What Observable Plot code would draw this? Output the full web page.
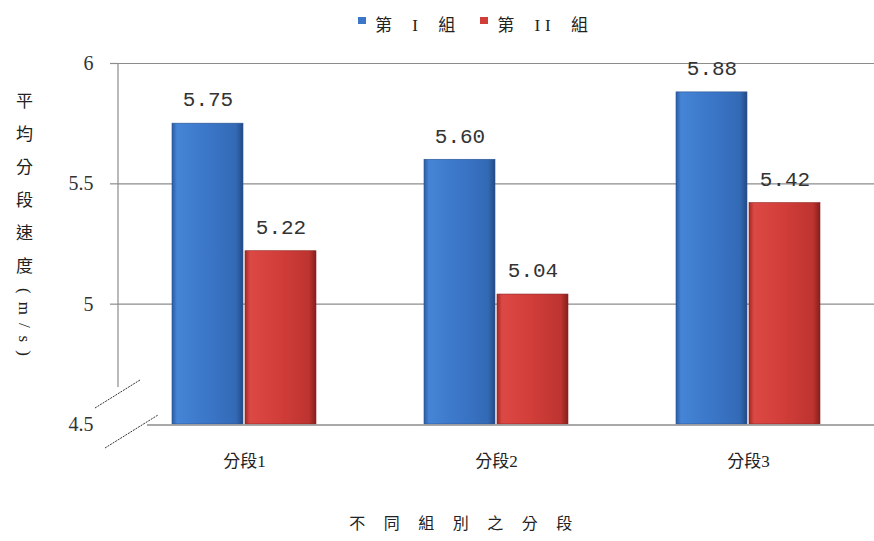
<!DOCTYPE html>
<html>
<head>
<meta charset="utf-8">
<script src="https://cdn.jsdelivr.net/npm/d3@7"></script>
<script src="https://cdn.jsdelivr.net/npm/@observablehq/plot@0.6"></script>
<style>
  body { margin: 0; background: #fff; }
  #wrap { position: relative; width: 874px; height: 541px; background: #fff; font-family: "Liberation Serif", "Noto Sans CJK TC", serif; }
  #chart { position: absolute; left: 0; top: 0; }
  #chart g[aria-label="y-axis tick label"] text, #chart g[aria-label="y-axis tick label"] { font-family: "Liberation Serif", serif !important; font-size: 20px !important; fill: #333; }
  #chart g[aria-label="fx-axis tick label"] text, #chart g[aria-label="fx-axis tick label"] { font-family: "Liberation Serif", "Noto Sans CJK TC", serif !important; font-size: 17px !important; fill: #222; }
  .legend { position: absolute; top: 11px; left: 358px; font-size: 17px; color: #222; white-space: pre; display: flex; align-items: center; }
  .legend .sw { display: inline-block; width: 8px; height: 7px; margin-right: 9px; margin-top: -6px; }
  .legend .lab { letter-spacing: 5px; word-spacing: 6px; margin-right: 20px; }
  .ytitle { position: absolute; left: 12px; top: 92px; writing-mode: vertical-rl; font-size: 17px; color: #222; }
  .ytitle .cjk { letter-spacing: 16px; text-orientation: upright; font-family: "Noto Sans CJK TC", sans-serif; }
  .ytitle .lat { letter-spacing: 8px; text-orientation: sideways; font-family: "Liberation Serif", serif; margin-top: -2px; }
  .xtitle { position: absolute; top: 510px; left: 0; width: 874px; text-align: center; font-size: 16px; color: #222; letter-spacing: 18.5px; padding-left: 66px; box-sizing: border-box; font-family: "Noto Sans CJK TC", sans-serif; }
</style>
</head>
<body>
<div id="wrap">
  <div id="chart"></div>
  <div class="legend" id="legend"></div>
  <div class="ytitle"><span class="cjk">平均分段速度</span><span class="lat">(m/s)</span></div>
  <div class="xtitle">不同組別之分段</div>
</div>
<script>
// ---- data ----
const segments = ["分段1", "分段2", "分段3"];
const groups = ["第 I 組", "第 II 組"];
const groupI = [5.75, 5.60, 5.88];
const groupII = [5.22, 5.04, 5.42];
const yTicks = [4.5, 5, 5.5, 6];
const gridTicks = [5, 5.5, 6];
const valueLabels = ["5.75", "5.60", "5.88", "5.22", "5.04", "5.42"];

const rows = [];
segments.forEach((s, i) => rows.push({segment: s, group: groups[0], value: groupI[i], label: valueLabels[i]}));
segments.forEach((s, i) => rows.push({segment: s, group: groups[1], value: groupII[i], label: valueLabels[i + 3]}));

const plot = Plot.plot({
  width: 874,
  height: 541,
  marginTop: 63,
  marginBottom: 117,
  marginLeft: 118,
  marginRight: 0,
  style: {fontFamily: "'Noto Sans CJK TC', sans-serif", color: "#222", background: "transparent"},
  fx: {domain: segments, padding: 0, axis: "bottom", tickSize: 0, tickPadding: 30, label: null},
  x: {domain: groups, paddingInner: 0.03, paddingOuter: 0.72, axis: null},
  y: {domain: [4.5, 6], ticks: yTicks, tickSize: 8, tickPadding: 17, label: null, tickFormat: d => String(d)},
  color: {domain: groups, range: ["url(#gradBlue)", "url(#gradRed)"]},
  marks: [
    Plot.ruleY(gridTicks, {stroke: "#8c8c8c", strokeWidth: 1.2}),
    Plot.barY(rows, {fx: "segment", x: "group", y1: 4.5, y2: "value", fill: "group", stroke: d => d.group === groups[0] ? "#2a5390" : "#8e2422", strokeWidth: 0.6}),
    Plot.text(rows, {fx: "segment", x: "group", y: "value", text: "label", dy: -24, fontSize: 21, fontFamily: "'Liberation Mono', monospace", fill: "#333"})
  ]
});

document.getElementById("chart").appendChild(plot);
const svg = d3.select(plot);

// gradients
const defs = svg.insert("defs", ":first-child");
function grad(id, stops) {
  const g = defs.append("linearGradient").attr("id", id).attr("x1", "0").attr("x2", "1").attr("y1", "0").attr("y2", "0");
  stops.forEach(([o, c]) => g.append("stop").attr("offset", o).attr("stop-color", c));
}
grad("gradBlue", [["0", "#2c5ca3"], ["0.07", "#4584d6"], ["0.5", "#3b76c8"], ["0.9", "#336ab6"], ["1", "#234a85"]]);
grad("gradRed", [["0", "#a02a27"], ["0.07", "#dc4844"], ["0.5", "#d13d39"], ["0.9", "#bd3430"], ["1", "#861f1d"]]);

// style axis ticks; drop the tick at the broken baseline
const y = plot.scale("y");
const yb = y.apply(4.5), yt = y.apply(6);
svg.selectAll("[aria-label='y-axis tick label'] text").attr("font-family", "Liberation Serif").attr("font-size", 20);
svg.selectAll("[aria-label='y-axis tick'] path, [aria-label='y-axis tick'] line")
  .attr("stroke", "#8c8c8c").attr("stroke-width", 1.2)
  .each(function(d) {
    const t = this.getAttribute("transform") || "";
    const m = t.match(/translate\(\s*[-\d.]+\s*,\s*([-\d.]+)/);
    if (m && Math.abs(+m[1] - yb) < 2) this.remove();
  });

// axis line with break, baseline
const x0 = 118;
const deco = svg.append("g").attr("stroke", "#8c8c8c").attr("fill", "none");
deco.append("line").attr("x1", x0).attr("x2", x0).attr("y1", yt).attr("y2", yb - 37).attr("stroke-width", 1.2);
deco.append("line").attr("x1", x0 + 29).attr("x2", 874).attr("y1", yb + 1).attr("y2", yb + 1).attr("stroke-width", 1.4);
deco.append("line").attr("x1", x0 - 23).attr("y1", yb - 16).attr("x2", x0 + 22).attr("y2", yb - 44).attr("stroke", "#333").attr("stroke-dasharray", "2,1");
deco.append("line").attr("x1", x0 - 13).attr("y1", yb + 24).attr("x2", x0 + 40).attr("y2", yb - 9).attr("stroke", "#333").attr("stroke-dasharray", "2,1");

// legend
const colors = ["#3b76c8", "#d13d39"];
const leg = d3.select("#legend");
groups.forEach((g, i) => {
  leg.append("span").attr("class", "sw").style("background", colors[i]);
  leg.append("span").attr("class", "lab").text(g);
});
</script>
</body>
</html>
